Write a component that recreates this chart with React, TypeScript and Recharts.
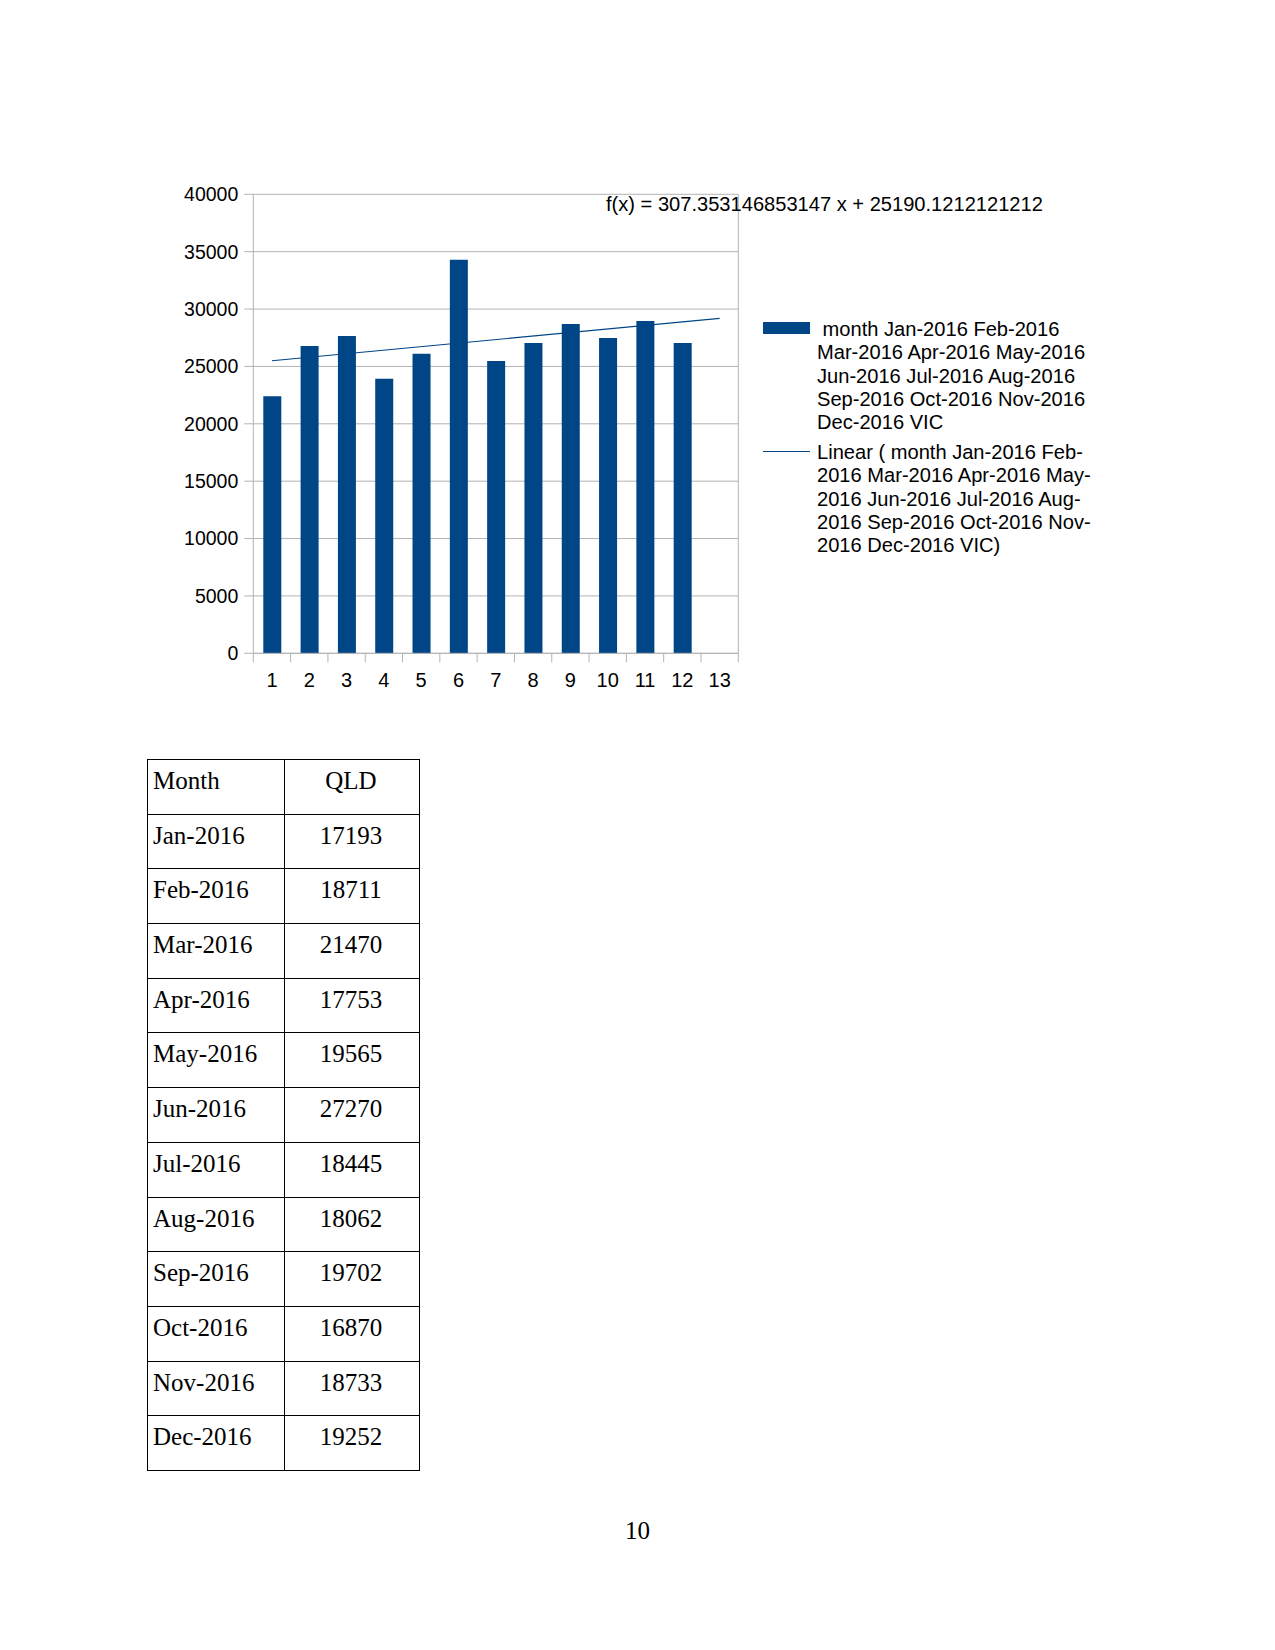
import React from "react";
import {
  ComposedChart,
  Bar,
  XAxis,
  YAxis,
  CartesianGrid,
  ReferenceLine,
  Legend,
} from "recharts";

// chart values (VIC by month index)
const MONTH_INDEX = [1, 2, 3, 4, 5, 6, 7, 8, 9, 10, 11, 12, 13];
const VIC = [22410, 26770, 27660, 23920, 26100, 34290, 25480, 27040, 28690, 27480, 28950, 27040];
const Y_TICKS = [0, 5000, 10000, 15000, 20000, 25000, 30000, 35000, 40000];

// trend line as printed on the chart
const SLOPE = 307.353146853147;
const INTERCEPT = 25190.1212121212;
const EQUATION = "f(x) = 307.353146853147 x + 25190.1212121212";

const LEGEND_BAR = [
  " month Jan-2016 Feb-2016",
  "Mar-2016 Apr-2016 May-2016",
  "Jun-2016 Jul-2016 Aug-2016",
  "Sep-2016 Oct-2016 Nov-2016",
  "Dec-2016 VIC",
];
const LEGEND_TREND = [
  "Linear ( month Jan-2016 Feb-",
  "2016 Mar-2016 Apr-2016 May-",
  "2016 Jun-2016 Jul-2016 Aug-",
  "2016 Sep-2016 Oct-2016 Nov-",
  "2016 Dec-2016 VIC)",
];

// table below the chart
const TABLE_MONTHS = [
  "Jan-2016", "Feb-2016", "Mar-2016", "Apr-2016", "May-2016", "Jun-2016",
  "Jul-2016", "Aug-2016", "Sep-2016", "Oct-2016", "Nov-2016", "Dec-2016",
];
const QLD = [17193, 18711, 21470, 17753, 19565, 27270, 18445, 18062, 19702, 16870, 18733, 19252];

const BLUE = "#004586";
const GRID = "#b3b3b3";
const SANS = "'Liberation Sans', Arial, sans-serif";
const SERIF = "'Liberation Serif', 'Times New Roman', serif";

const data = MONTH_INDEX.map((m, i) => ({ m, vic: VIC[i] ?? null }));

function CatTick(props: any) {
  const { x, y, payload } = props;
  const half = payload?.offset ?? 18.65;
  const last = payload?.value === MONTH_INDEX[MONTH_INDEX.length - 1];
  return (
    <g>
      <line x1={x - half} x2={x - half} y1={y} y2={y + 9} stroke={GRID} />
      {last && <line x1={x + half} x2={x + half} y1={y} y2={y + 9} stroke={GRID} />}
      <text
        x={x}
        y={y + 27}
        textAnchor="middle"
        dominantBaseline="central"
        fontSize={20}
        fontFamily={SANS}
        fill="#000"
      >
        {payload.value}
      </text>
    </g>
  );
}

function LegendBox() {
  const line = { lineHeight: "23.2px", whiteSpace: "pre" as const };
  return (
    <div style={{ fontFamily: SANS, fontSize: 20.1, color: "#000" }}>
      <div style={{ display: "flex" }}>
        <div style={{ width: 54, position: "relative" }}>
          <div style={{ position: "absolute", left: 0, top: 4, width: 47, height: 12, background: BLUE }} />
        </div>
        <div>
          {LEGEND_BAR.map((t, i) => (
            <div key={i} style={line}>{t}</div>
          ))}
        </div>
      </div>
      <div style={{ display: "flex", marginTop: 7 }}>
        <div style={{ width: 54, position: "relative" }}>
          <div style={{ position: "absolute", left: 0, top: 9.6, width: 47, height: 0, borderTop: `1px solid ${BLUE}` }} />
        </div>
        <div>
          {LEGEND_TREND.map((t, i) => (
            <div key={i} style={line}>{t}</div>
          ))}
        </div>
      </div>
    </div>
  );
}

export default function App() {
  const first = MONTH_INDEX[0];
  const lastM = MONTH_INDEX[MONTH_INDEX.length - 1];
  return (
    <div style={{ position: "absolute", left: 0, top: 0, width: 1275, height: 1650, background: "#fff" }}>
      <div style={{ position: "absolute", left: 0, top: 0 }}>
        <ComposedChart
          width={1275}
          height={720}
          data={data}
          margin={{ top: 194.3, left: 173.3, right: 536.7, bottom: 26.7 }}
        >
          <CartesianGrid
            stroke={GRID}
            horizontal={true}
            vertical={true}
            verticalCoordinatesGenerator={({ offset }: any) => [offset.left + offset.width]}
          />
          <XAxis
            dataKey="m"
            type="category"
            interval={0}
            height={40}
            tickSize={0}
            tickMargin={0}
            tickLine={false}
            axisLine={{ stroke: GRID }}
            tick={<CatTick />}
          />
          <YAxis
            width={80}
            domain={[0, 40000]}
            ticks={Y_TICKS}
            interval={0}
            tickSize={9}
            tickMargin={6}
            axisLine={{ stroke: GRID }}
            tickLine={{ stroke: GRID }}
            tick={{ fill: "#000", fontSize: 19.5, fontFamily: SANS }}
          />
          <Bar dataKey="vic" fill={BLUE} barSize={18} isAnimationActive={false} />
          <ReferenceLine
            segment={[
              { x: first, y: SLOPE * first + INTERCEPT },
              { x: lastM, y: SLOPE * lastM + INTERCEPT },
            ]}
            stroke={BLUE}
            strokeWidth={1.1}
            ifOverflow="visible"
          />
          <Legend
            layout="vertical"
            align="center"
            verticalAlign="middle"
            wrapperStyle={{ left: 763, top: 318.2, width: 340 }}
            content={() => <LegendBox />}
          />
        </ComposedChart>
      </div>

      <div
        style={{
          position: "absolute",
          left: 606,
          top: 192,
          fontFamily: SANS,
          fontSize: 20.1,
          lineHeight: "24px",
          whiteSpace: "pre",
          color: "#000",
        }}
      >
        {EQUATION}
      </div>

      <table
        style={{
          position: "absolute",
          left: 147,
          top: 759,
          borderCollapse: "collapse",
          tableLayout: "fixed",
          width: 272,
          fontFamily: SERIF,
          fontSize: 25,
          color: "#000",
        }}
      >
        <colgroup>
          <col style={{ width: 137 }} />
          <col style={{ width: 135 }} />
        </colgroup>
        <tbody>
          {[["Month", "QLD"], ...TABLE_MONTHS.map((m, i) => [m, String(QLD[i])])].map((row, i) => (
            <tr key={i} style={{ height: 54.7 }}>
              <td style={{ border: "1px solid #000", padding: "6px 0 0 5px", verticalAlign: "top", lineHeight: "30px" }}>
                {row[0]}
              </td>
              <td style={{ border: "1px solid #000", padding: "6px 2px 0 0", verticalAlign: "top", lineHeight: "30px", textAlign: "center" }}>
                {row[1]}
              </td>
            </tr>
          ))}
        </tbody>
      </table>

      <div
        style={{
          position: "absolute",
          left: 0,
          width: 1275,
          top: 1515.6,
          textAlign: "center",
          fontFamily: SERIF,
          fontSize: 25,
          lineHeight: "30px",
          color: "#000",
        }}
      >
        10
      </div>
    </div>
  );
}
